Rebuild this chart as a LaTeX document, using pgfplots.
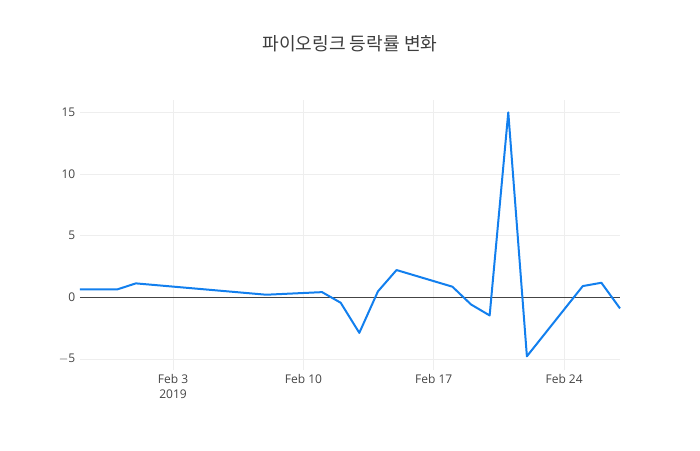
\documentclass[border=0pt]{standalone}
\usepackage{pgfplots}
\pgfplotsset{compat=1.18}
\usepackage{fontspec}
\setmainfont{Open Sans}
\newfontfamily\kr{Noto Sans CJK KR}
\definecolor{tick}{HTML}{444444}
\definecolor{grid}{HTML}{EEEEEE}
\definecolor{line}{RGB}{18,127,238}

\begin{document}
\begin{tikzpicture}
% day numbers: Feb d = d, Jan 31 = 0
\begin{axis}[
    scale only axis,
    width=405pt, height=202.5pt,
    xmin=-2, xmax=27,
    ymin=-5.88, ymax=16,
    axis line style={draw=none},
    tick style={draw=none},
    xtick={3,10,17,24},
    xticklabels={{Feb 3\\2019},Feb 10,Feb 17,Feb 24},
    xticklabel style={align=center, font=\fontsize{9}{11}\selectfont, text=tick},
    ytick={-5,0,5,10,15},
    yticklabels={$-$5,0,5,10,15},
    yticklabel style={font=\fontsize{9}{11}\selectfont, text=tick},
    /pgf/number format/assume math mode=true,
    grid=major,
    major grid style={draw=grid, line width=0.75pt},
    clip=false,
]
\addplot[draw=tick, line width=0.75pt, forget plot] coordinates {(-2,0) (27,0)};
\addplot[draw=line, line width=1.5pt, line join=round, mark=none] coordinates {
(-2,0.65) (-1,0.65) (0,0.65) (1,1.14) (8,0.22) (11,0.43) (12,-0.43)
(13,-2.87) (14,0.49) (15,2.22) (18,0.87) (19,-0.57) (20,-1.46)
(21,15.0) (22,-4.77) (25,0.92) (26,1.19) (27,-0.89)
};
\end{axis}
\path (current axis.south west) ++(-60pt,-60pt) coordinate (bl);
\path (current axis.north east) ++(60pt,75pt) coordinate (tr);
\path[use as bounding box] (bl) rectangle (tr);
\node[text=tick!90!black, font=\kr\fontsize{13.6}{15}\selectfont, yshift=42pt] at (current axis.north) {파이오링크 등락률 변화};
\end{tikzpicture}
\end{document}
